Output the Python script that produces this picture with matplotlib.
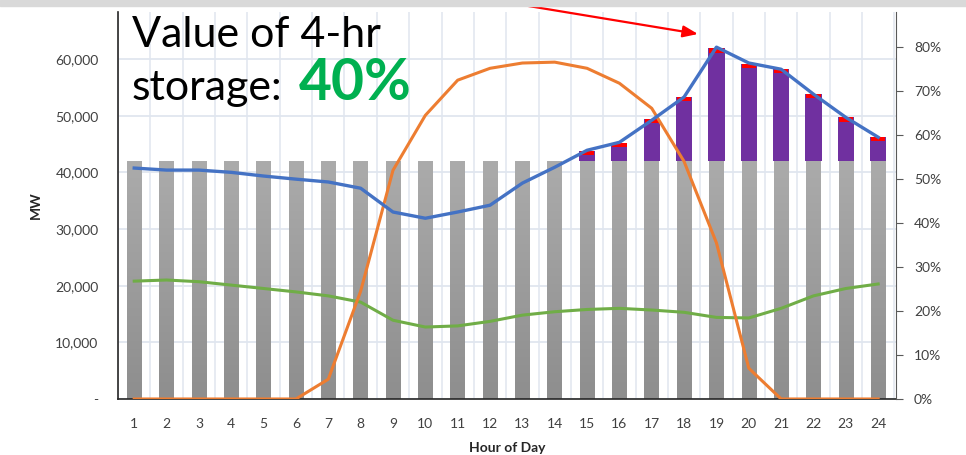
import numpy as np
import matplotlib
import matplotlib.pyplot as plt
from matplotlib.colors import LinearSegmentedColormap
from matplotlib.ticker import FuncFormatter, MultipleLocator

plt.rcParams['font.family'] = ['Lato', 'DejaVu Sans']

# data
hours = list(range(1, 25))
load_mw = [40760, 40400, 40400, 40000, 39350, 38800, 38300, 37200, 33000, 31900,
           33000, 34200, 38100, 40900, 43900, 45300, 49200, 53300, 62100, 59300,
           58200, 53800, 49700, 46200]
net_mw = [20800, 21000, 20700, 20100, 19500, 18900, 18200, 17100, 13900, 12700,
          12900, 13700, 14800, 15400, 15800, 16000, 15700, 15300, 14400, 14300,
          16000, 18200, 19500, 20300]
solar_pct = [0, 0, 0, 0, 0, 0, 4.5, 24.5, 52, 64.5, 72.5, 75.2, 76.4, 76.6,
             75.2, 71.8, 66.1, 54, 35.5, 7, 0, 0, 0, 0]
capacity_mw = [42000] * 24
storage_hours = list(range(15, 25))
storage_mw = [1800, 3200, 7500, 11300, 19900, 17100, 16200, 11800, 7700, 4200]

fig = plt.figure(figsize=(9.66, 4.55), dpi=100)
ax = fig.add_axes([0.1222, 0.1231, 0.8053, 0.8505])
ax2 = ax.twinx()

ax.set_xlim(0.5, 24.55)
ax.set_ylim(0, 68300)
ax2.set_ylim(0, 88)

# grid
for xg in np.arange(0.5, 25, 1):
    ax.axvline(xg, color='#e0e6ef', lw=1.1, zorder=0)
ax.yaxis.grid(True, color='#e0e6ef', lw=1.3, zorder=0)
ax.set_axisbelow(True)

# gray capacity bars with a vertical gradient
cmap = LinearSegmentedColormap.from_list('g', ['#8e8e8e', '#ababab'])
grad = np.linspace(0, 1, 128).reshape(-1, 1)
bw = 0.45
for h, c in zip(hours, capacity_mw):
    ax.imshow(grad, extent=(h - bw / 2, h + bw / 2, 0, c), origin='lower',
              cmap=cmap, aspect='auto', zorder=1)

# storage bars (purple) with red caps
st_base = [capacity_mw[h - 1] for h in storage_hours]
ax.bar(storage_hours, storage_mw, width=0.5, bottom=st_base, color='#7030a0', zorder=2)
tops = [b + s for b, s in zip(st_base, storage_mw)]
ax.bar(storage_hours, [750] * len(tops), width=0.44, bottom=[t - 750 for t in tops],
       color='#ff0000', zorder=2.5)

ax.plot(hours, net_mw, color='#70ad47', lw=2.2, zorder=3)
ax.plot(hours, solar_pct, color='#ed7d31', lw=2.2, zorder=4, transform=ax2.transData)
ax.plot(hours, load_mw, color='#4472c4', lw=2.4, zorder=5)

ax.set_xlim(0.5, 24.55)
ax.set_ylim(0, 68300)

# axes styling
ax.set_xticks(hours)
ax.yaxis.set_major_locator(MultipleLocator(10000))
ax.yaxis.set_major_formatter(FuncFormatter(lambda v, p: '-' if v == 0 else f'{int(v):,}'))
ax.tick_params(axis='both', length=0, labelsize=10, labelcolor='#404040')
ax.tick_params(axis='x', pad=14)
ax.tick_params(axis='y', pad=14)
ax2.yaxis.set_major_locator(MultipleLocator(10))
ax2.yaxis.set_major_formatter(FuncFormatter(lambda v, p: f'{int(v)}%'))
ax2.tick_params(axis='y', length=5, color='#595959', labelsize=10, labelcolor='#404040', pad=8)
for a in (ax, ax2):
    a.spines['top'].set_visible(False)
ax.spines['right'].set_visible(False)
ax2.spines['left'].set_visible(False)
ax2.spines['bottom'].set_visible(False)
ax.spines['left'].set_color('#262626')
ax.spines['bottom'].set_color('#262626')
ax2.spines['right'].set_color('#595959')
ax.spines['left'].set_linewidth(1.2)
ax.spines['bottom'].set_linewidth(1.2)

ax.set_ylabel('MW', fontsize=10, fontweight='bold', color='#262626', labelpad=10)
ax.set_xlabel('Hour of Day', fontsize=10, fontweight='bold', color='#262626', labelpad=8)

# top gray band
fig.patches.append(matplotlib.patches.Rectangle((0, 1 - 6 / 455), 1, 6 / 455,
                                                transform=fig.transFigure,
                                                color='#d9d9d9', zorder=0))

# annotation
fig.text(132 / 966, 1 - 47 / 455, 'Value of 4-hr', fontsize=31, color='black',
         ha='left', va='baseline')
fig.text(132 / 966, 1 - 100 / 455, 'storage:', fontsize=31, color='black',
         ha='left', va='baseline')
fig.text(299 / 966, 1 - 100 / 455, '40%', fontsize=41, color='#00b050',
         fontweight='bold', ha='left', va='baseline')
ax.annotate('', xy=(698 / 966, 1 - 34 / 455), xycoords='figure fraction',
            xytext=(480 / 966, 1 + 2 / 455), textcoords='figure fraction',
            arrowprops=dict(arrowstyle='-|>,head_length=0.9,head_width=0.35',
                            color='#ff0000', lw=1.6, shrinkA=0, shrinkB=0),
            annotation_clip=False)

fig.savefig('out.png', dpi=100)
